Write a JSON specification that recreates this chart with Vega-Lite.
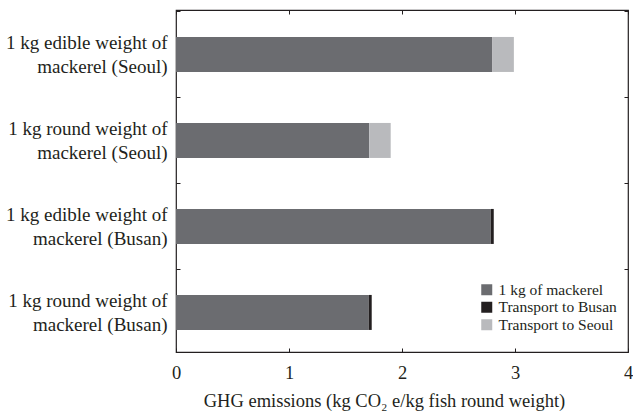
{
  "$schema": "https://vega.github.io/schema/vega-lite/v6.json",
  "width": 452,
  "height": 342,
  "autosize": "none",
  "padding": {"left": 176, "top": 10, "right": 5, "bottom": 62},
  "background": "white",
  "config": {
    "font": "Liberation Serif",
    "view": {"stroke": "#231f20", "strokeWidth": 1.2},
    "axis": {"domain": false, "grid": false, "tickColor": "#231f20", "labelColor": "#231f20", "titleColor": "#231f20", "labelFont": "Liberation Serif", "titleFont": "Liberation Serif"}
  },
  "data": {
    "values": [
      {"category": "1 kg edible weight of mackerel (Seoul)", "component": "1 kg of mackerel", "value": 2.80},
      {"category": "1 kg edible weight of mackerel (Seoul)", "component": "Transport to Seoul", "value": 0.19},
      {"category": "1 kg round weight of mackerel (Seoul)", "component": "1 kg of mackerel", "value": 1.71},
      {"category": "1 kg round weight of mackerel (Seoul)", "component": "Transport to Seoul", "value": 0.19},
      {"category": "1 kg edible weight of mackerel (Busan)", "component": "1 kg of mackerel", "value": 2.785},
      {"category": "1 kg edible weight of mackerel (Busan)", "component": "Transport to Busan", "value": 0.027},
      {"category": "1 kg round weight of mackerel (Busan)", "component": "1 kg of mackerel", "value": 1.705},
      {"category": "1 kg round weight of mackerel (Busan)", "component": "Transport to Busan", "value": 0.027}
    ]
  },
  "resolve": {"axis": {"x": "independent", "y": "independent"}},
  "layer": [
    {
      "mark": {"type": "bar"},
      "encoding": {
        "y": {
          "field": "category", "type": "nominal", "sort": null,
          "scale": {"paddingInner": 0.593, "paddingOuter": 0.285, "align": 0.55},
          "axis": {
            "title": null, "orient": "left", "ticks": false,
            "labelPadding": 9, "labelFontSize": 19, "labelLineHeight": 24, "labelLimit": 300, "labelOffset": -11,
            "labelExpr": "[slice(datum.label, 0, indexof(datum.label, 'mackerel') - 1), slice(datum.label, indexof(datum.label, 'mackerel'))]"
          }
        },
        "x": {
          "field": "value", "type": "quantitative", "stack": "zero",
          "scale": {"domain": [0, 4], "nice": false},
          "axis": {
            "orient": "bottom", "title": "GHG emissions (kg CO₂ e/kg fish round weight)",
            "values": [0, 1, 2, 3, 4], "tickSize": -4, "labelPadding": 15, "labelFontSize": 18.5,
            "titleFontSize": 18.5, "titleFontWeight": "normal", "titlePadding": 10, "titleX": 208, "labelFlush": false
          }
        },
        "color": {
          "field": "component", "type": "nominal",
          "scale": {"domain": ["1 kg of mackerel", "Transport to Busan", "Transport to Seoul"], "range": ["#6b6c70", "#231f20", "#b9babd"]},
          "legend": {
            "title": null, "orient": "none", "legendX": 303, "legendY": 272,
            "symbolType": "square", "symbolSize": 121, "symbolStrokeWidth": 0, "symbolOpacity": 1,
            "labelFontSize": 15.5, "labelColor": "#231f20", "labelFont": "Liberation Serif", "rowPadding": 0.5, "labelOffset": 4
          }
        }
      }
    },
    {
      "mark": {"type": "bar", "opacity": 0},
      "encoding": {
        "y": {
          "field": "category", "type": "nominal", "sort": null,
          "axis": {"title": null, "orient": "right", "bandPosition": -0.73, "tickSize": -4, "labels": false}
        },
        "x": {
          "field": "value", "type": "quantitative", "stack": "zero",
          "axis": {"orient": "top", "title": null, "values": [0, 1, 2, 3, 4], "tickSize": -4, "labels": false}
        }
      }
    },
    {
      "mark": {"type": "bar", "opacity": 0},
      "encoding": {
        "y": {
          "field": "category", "type": "nominal", "sort": null,
          "axis": {"title": null, "orient": "left", "bandPosition": -0.73, "tickSize": -4, "labels": false}
        },
        "x": {
          "field": "value", "type": "quantitative", "stack": "zero",
          "axis": null
        }
      }
    }
  ]
}
